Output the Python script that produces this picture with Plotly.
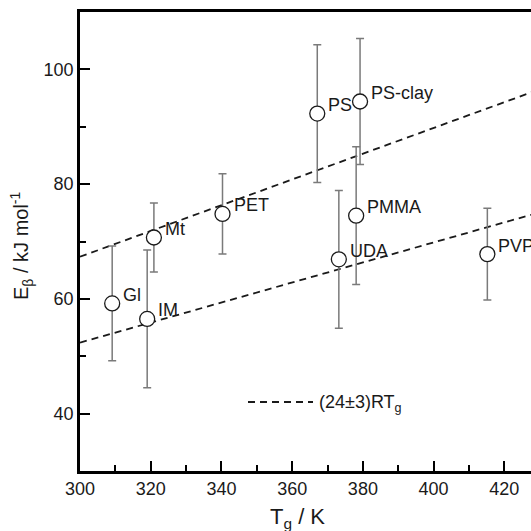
import plotly.graph_objects as go

# Glass-transition temperature vs. beta-relaxation activation energy
materials = ["Gl", "IM", "Mt", "PET", "PS", "PS-clay", "PMMA", "UDA", "PVP"]
tg_K = [309.1, 319.0, 320.9, 340.3, 367.1, 379.2, 378.1, 373.2, 415.2]
e_beta = [59.2, 56.5, 70.7, 74.8, 92.3, 94.4, 74.5, 66.9, 67.8]
e_err = [10.0, 12.0, 6.0, 7.0, 12.0, 11.0, 12.0, 12.0, 8.0]

# Reference lines E = c * R * Tg with c = 24 +/- 3
R_kJ = 8.314e-3
coefs = [21, 27]
t_line = [300, 430]

x_ticks = [300, 320, 340, 360, 380, 400, 420]
y_ticks = [40, 60, 80, 100]

FONT = "Liberation Sans, Arial, Helvetica, sans-serif"
INK = "#1a1a1a"

fig = go.Figure()

for c in coefs:
    fig.add_trace(go.Scatter(
        x=t_line, y=[c * R_kJ * t for t in t_line],
        mode="lines",
        line=dict(color=INK, width=1.8, dash="7px,5px"),
        hoverinfo="skip", showlegend=False,
    ))

fig.add_trace(go.Scatter(
    x=tg_K, y=e_beta,
    mode="markers",
    marker=dict(symbol="circle", size=15, color="white",
                line=dict(color=INK, width=1.3)),
    error_y=dict(type="data", array=e_err, visible=True,
                 color="#7a7a7a", thickness=1.5, width=4),
    showlegend=False,
))

annotations = []
for name, t, e in zip(materials, tg_K, e_beta):
    annotations.append(dict(
        x=t, y=e, xref="x", yref="y", text=name, showarrow=False,
        xanchor="left", yanchor="middle", xshift=9, yshift=8.5,
        font=dict(family=FONT, size=18, color=INK),
    ))

# Legend key drawn as a dashed segment plus its label
W, H = 531, 531
ML, MR, MT, MB = 80, 0, 12, 60
pw, ph = W - ML - MR, H - MT - MB


def px_to_paper(px, py):
    return (px - ML) / pw, 1 - (py - MT) / ph


lx0, ly = px_to_paper(248, 402)
lx1, _ = px_to_paper(313, 402)
shapes = [dict(type="line", xref="paper", yref="paper",
               x0=lx0, x1=lx1, y0=ly, y1=ly,
               line=dict(color=INK, width=1.8, dash="7px,5px"))]
tx, ty = px_to_paper(317, 403)
annotations.append(dict(
    x=tx, y=ty, xref="paper", yref="paper",
    text="(24±3)RT<sub>g</sub>", showarrow=False,
    xanchor="left", yanchor="middle",
    font=dict(family=FONT, size=18, color=INK),
))

# Axis titles
ax, ay = px_to_paper(297.5, 517.5)
annotations.append(dict(
    x=ax, y=ay, xref="paper", yref="paper",
    text="T<sub>g</sub> / K", showarrow=False,
    xanchor="center", yanchor="middle",
    font=dict(family=FONT, size=22, color=INK),
))
yx, yy = px_to_paper(22, 246)
annotations.append(dict(
    x=yx, y=yy, xref="paper", yref="paper",
    text="E<sub>β</sub> / kJ mol<sup>-1</sup>", showarrow=False,
    textangle=-90, xanchor="center", yanchor="middle",
    font=dict(family=FONT, size=20, color=INK),
))

axis_common = dict(
    showgrid=False, zeroline=False,
    showline=True, linecolor="black", linewidth=2.5,
    ticks="inside", ticklen=10, tickwidth=2, tickcolor="black",
    tickfont=dict(family=FONT, size=18, color=INK),
)

fig.update_layout(
    width=W, height=H,
    margin=dict(l=ML, r=MR, t=MT, b=MB, pad=0),
    paper_bgcolor="white", plot_bgcolor="white",
    xaxis=dict(range=[300, 300 + pw / 3.536], tickvals=x_ticks,
               mirror=True,
               minor=dict(dtick=10, tick0=300, ticks="inside", ticklen=6,
                          tickwidth=2, tickcolor="black", showgrid=False),
               **axis_common),
    yaxis=dict(range=[30, 110], tickvals=y_ticks, mirror=False,
               minor=dict(dtick=10, tick0=30, ticks="inside", ticklen=6,
                          tickwidth=2, tickcolor="black", showgrid=False),
               **axis_common),
    shapes=shapes,
    annotations=annotations,
    showlegend=False,
)

fig.write_html("out.html")
